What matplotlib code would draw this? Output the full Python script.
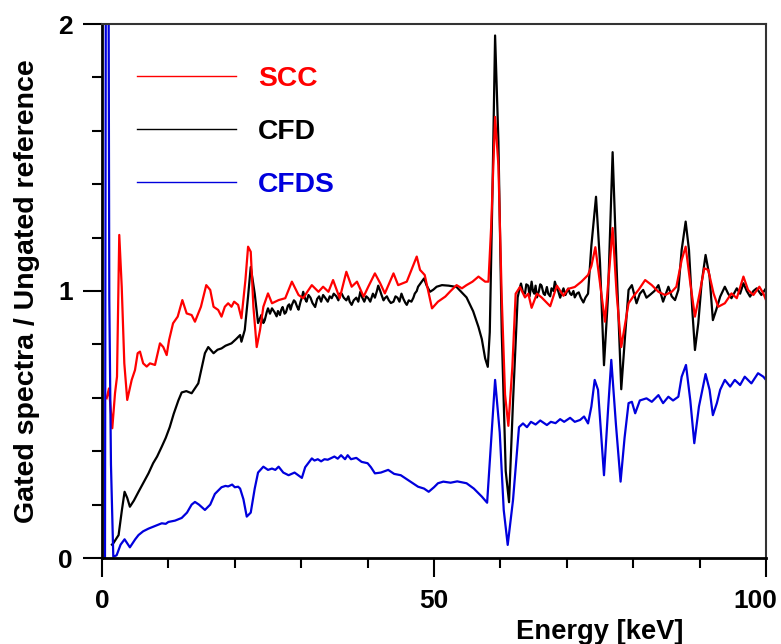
import matplotlib
matplotlib.use('Agg')
import matplotlib.pyplot as plt
from matplotlib.ticker import MultipleLocator
from matplotlib.transforms import ScaledTranslation

# --- data ---
e_scc = [0.7, 1.05, 1.55, 1.96, 2.26, 2.6, 2.97, 3.36, 3.8, 4.47, 4.97, 5.37, 5.72, 6.2, 6.73, 7.23,
         7.98, 8.73, 9.23, 9.74, 10.1, 10.7, 11.4, 12.1, 12.75, 13.5, 14.0, 14.9, 15.7, 16.3, 16.8,
         17.5, 18.0, 18.5, 19.0, 19.5, 19.9, 20.5, 21.0, 21.6, 22.0, 22.4, 22.8, 23.3, 23.8, 24.3,
         25.0, 25.6, 26.6, 27.6, 28.6, 29.6, 30.3, 31.0, 31.6, 32.6, 33.3, 34.1, 34.8, 35.8, 36.8,
         37.6, 38.4, 39.4, 40.1, 41.1, 41.9, 42.6, 43.9, 44.6, 45.9, 46.6, 47.4, 47.9, 48.6, 49.1,
         49.7, 50.6, 51.7, 52.5, 53.4, 54.2, 54.9, 55.8, 56.7, 57.7, 58.2, 58.6, 59.2, 59.7, 60.2,
         60.7, 61.2, 61.8, 62.3, 62.95, 63.7, 64.2, 64.7, 65.5, 66.2, 67.5, 68.5, 69.5, 70.2, 71.2,
         72.2, 73.2, 73.7, 74.3, 75.0, 75.75, 76.4, 76.9, 77.5, 78.2, 78.8, 79.3, 80.0, 80.8, 81.8,
         82.8, 83.8, 84.8, 85.8, 86.5, 87.3, 87.9, 88.6, 89.3, 90.0, 90.7, 91.3, 92.1, 92.8, 93.8,
         94.8, 95.6, 96.6, 97.3, 98.1, 99.0, 99.6, 100.0]
scc = [0.598, 0.635, 0.486, 0.617, 0.679, 1.21, 1.016, 0.729, 0.592, 0.667, 0.704, 0.767, 0.773,
       0.729, 0.717, 0.729, 0.723, 0.804, 0.79, 0.76, 0.816, 0.879, 0.904, 0.966, 0.916, 0.91, 0.885,
       0.941, 1.022, 1.004, 0.941, 0.929, 0.904, 0.941, 0.954, 0.941, 0.96, 0.948, 0.898, 1.041,
       1.166, 1.147, 0.941, 0.79, 0.854, 0.941, 0.991, 0.954, 0.966, 0.973, 1.035, 0.985, 0.973,
       1.0, 1.022, 0.997, 1.016, 0.997, 1.041, 0.973, 1.072, 1.016, 1.035, 0.979, 1.016, 1.066,
       1.029, 0.991, 1.066, 1.022, 1.035, 1.079, 1.129, 1.079, 1.06, 1.004, 0.935, 0.96, 0.979,
       1.0, 1.022, 1.01, 1.022, 1.035, 1.054, 1.035, 1.035, 1.236, 1.652, 1.47, 0.976, 0.612, 0.495,
       0.716, 0.99, 1.015, 0.976, 0.99, 0.937, 0.99, 0.976, 0.943, 1.02, 0.982, 1.008, 1.015, 1.035,
       1.06, 1.093, 1.164, 1.028, 0.885, 1.08, 1.236, 0.991, 0.79, 0.879, 0.954, 0.979, 1.004,
       1.041, 1.022, 0.997, 0.985, 0.997, 1.016, 1.116, 1.166, 1.029, 0.904, 0.991, 1.085, 1.079,
       0.991, 0.941, 0.954, 0.991, 0.973, 1.054, 1.004, 0.985, 1.016, 0.991, 0.966]

e_cfd = [1.5, 1.7, 2.5, 3.0, 3.4, 3.8, 4.2, 4.8, 5.5, 6.2, 7.0, 7.7, 8.3, 9.0, 9.6, 10.2, 10.8,
         11.5, 12.0, 12.7, 13.5, 14.5, 15.0, 15.5, 16.0, 16.8, 17.4, 18.0, 18.6, 19.5, 20.2, 20.8,
         21.0, 21.5, 22.0, 22.4, 23.0, 23.5,
         24.0, 24.3, 24.5, 24.8, 25.0, 25.3, 25.6, 26.0, 26.3, 26.5, 26.8, 27.0, 27.2, 27.5, 27.7,
         28.0, 28.2, 28.4, 28.6, 28.9, 29.1, 29.4, 29.6, 29.9, 30.1, 30.3, 30.6, 30.8, 31.1, 31.4,
         31.7, 32.1, 32.4, 32.7, 33.0, 33.3, 33.6, 34.0, 34.3, 34.6, 34.9, 35.3, 35.6, 35.8, 36.1,
         36.4, 36.8, 37.1, 37.3, 37.6, 37.9, 38.3, 38.6, 38.9, 39.2, 39.5, 39.8, 40.1, 40.4, 40.8,
         41.1, 41.4, 41.6, 41.9, 42.1, 42.4, 42.6, 42.9, 43.2, 43.5, 43.9, 44.2, 44.5, 44.8, 45.1,
         45.4, 45.7, 45.9, 46.2, 46.6, 46.9, 47.1, 47.4, 47.6, 48.0, 48.5, 48.9, 49.4, 49.9, 50.4,
         51.2, 52.2, 53.4, 54.9, 55.9, 56.7, 57.2, 57.7, 58.1, 58.4, 58.8, 59.2, 59.7, 60.2, 60.8,
         61.3, 61.9,
         62.6, 62.9, 63.1, 63.4, 63.7, 63.9, 64.2, 64.4, 64.7, 64.9, 65.1, 65.3, 65.5, 65.8, 66.0,
         66.2, 66.5, 66.7, 67.0, 67.2, 67.5, 67.7, 68.0, 68.2, 68.5, 68.7, 69.0, 69.2, 69.5, 69.8,
         70.2, 70.5, 70.7, 71.0, 71.2, 71.5, 71.8, 72.1, 72.5, 72.8, 73.2,
         73.7, 74.4, 75.0, 75.6, 76.2, 76.9, 77.5, 78.2, 78.8, 79.3, 79.8, 80.5, 81.0, 81.5, 82.0,
         82.5, 83.2, 83.8, 84.5, 85.3, 85.8, 86.3, 86.8, 87.3, 87.9, 88.4, 88.9, 89.3, 89.8, 90.3,
         90.9, 91.5, 92.0, 92.5, 93.1, 93.8, 94.3, 94.8, 95.6, 96.1, 96.6, 97.1, 97.6, 98.1, 98.6,
         99.3, 100.0]
cfd = [0.05, 0.055, 0.086, 0.18, 0.248, 0.225, 0.192, 0.215, 0.248, 0.28, 0.317, 0.355, 0.38,
       0.417, 0.45, 0.49, 0.54, 0.59, 0.62, 0.625, 0.617, 0.654, 0.71, 0.767, 0.79, 0.767, 0.78,
       0.785, 0.795, 0.804, 0.82, 0.835, 0.81, 0.854, 0.98, 1.09, 0.99, 0.88,
       0.91, 0.88, 0.89, 0.92, 0.935, 0.915, 0.935, 0.92, 0.905, 0.925, 0.91, 0.93, 0.94, 0.915,
       0.92, 0.945, 0.95, 0.93, 0.948, 0.965, 0.96, 0.94, 0.93, 0.96, 0.975, 0.997, 0.97, 0.96,
       0.985, 0.975, 0.955, 0.94, 0.97, 0.98, 0.96, 0.985, 0.975, 0.96, 0.98, 0.973, 0.99, 0.98,
       0.965, 0.99, 0.99, 0.975, 0.965, 0.98, 0.96, 0.948, 0.965, 0.975, 0.96, 0.997, 0.975, 0.96,
       0.98, 0.973, 0.96, 0.99, 0.975, 1.0, 1.02, 1.0, 0.985, 0.965, 0.973, 0.98, 0.965, 0.955,
       0.96, 0.98, 0.975, 0.96, 0.99, 0.97, 0.955, 0.948, 0.965, 0.96, 0.975, 0.99, 1.0, 1.016,
       1.03, 1.047, 1.02, 0.997, 1.005, 1.016,
       1.022, 1.02, 1.015, 0.976, 0.924, 0.865, 0.82, 0.748, 0.716, 0.846, 1.366, 1.957, 1.561,
       0.846, 0.326, 0.209, 0.586,
       0.976, 1.01, 1.028, 0.995, 0.99, 1.025, 1.02, 0.98, 1.035, 1.0, 0.99, 1.02, 0.976, 1.0,
       1.025, 1.02, 0.99, 0.985, 1.015, 0.99, 0.98, 1.01, 1.0, 1.035, 1.01, 1.0, 0.975, 0.99,
       1.01, 0.985, 1.009, 0.99, 0.985, 1.0, 0.976, 0.99, 0.995, 0.975, 0.957, 0.975, 0.99,
       1.17, 1.353, 1.106, 0.722, 0.976, 1.52, 1.09, 0.632, 0.84, 1.004, 1.022, 0.954, 0.99,
       1.004, 0.975, 0.985, 1.0, 1.022, 0.96, 1.016, 0.98, 0.966, 1.004, 1.154, 1.26, 1.154,
       0.929, 0.779, 0.879, 1.029, 1.135, 1.054, 0.891, 0.929, 0.979, 1.016, 0.99, 0.973, 1.01,
       0.99, 1.029, 1.0, 0.979, 1.0, 1.01, 0.985, 1.01]

e_cfds = [0.45, 0.6, 0.95, 1.1, 1.35, 1.7, 2.2, 2.8, 3.4, 4.2, 5.0, 5.5, 6.2, 7.0, 8.0, 9.0, 9.6,
          10.0, 11.0, 12.0, 12.8, 13.5, 14.0, 14.6, 15.5, 16.3, 17.0, 18.0, 18.6, 19.0, 19.6, 20.0,
          20.5, 20.8, 21.3, 21.8, 22.4, 23.0, 23.5, 24.3, 25.0, 25.6, 26.1, 26.6, 27.3, 28.1, 29.0,
          30.1, 30.6, 31.6, 32.0, 32.5, 33.0, 33.5, 34.0, 34.6, 35.0, 35.5, 36.0, 36.6, 37.0, 37.5,
          38.3, 39.1, 40.0, 40.5, 41.1, 42.0, 43.1, 44.0, 45.0, 45.6, 46.5, 47.6, 48.5, 49.2, 50.0,
          50.6, 51.4, 52.5, 53.5, 54.9, 56.0, 57.2, 58.0, 58.5, 59.2, 59.9, 60.5, 61.1, 61.9, 62.8,
          63.4, 64.0, 64.6, 65.3, 66.0, 67.0, 67.6, 68.3, 69.0, 69.6, 70.5, 71.2, 72.0, 72.6, 73.2,
          73.7, 74.2, 74.7, 75.6, 76.2, 76.7, 77.4, 78.1, 78.7, 79.3, 79.8, 80.3, 81.0, 82.0, 82.8,
          83.8, 84.5, 85.3, 86.0, 86.8, 87.3, 87.95, 88.6, 89.2, 89.9, 90.9, 91.5, 92.0, 92.6, 93.1,
          93.8, 94.6, 95.3, 96.1, 96.8, 97.8, 98.8, 99.6, 100.0]
cfds = [0.0, 2.6, 2.6, 0.97, 0.35, 0.005, 0.01, 0.05, 0.07, 0.04, 0.07, 0.086, 0.10, 0.11, 0.12,
        0.13, 0.128, 0.135, 0.14, 0.15, 0.17, 0.20, 0.21, 0.20, 0.18, 0.20, 0.24, 0.265, 0.27,
        0.268, 0.275, 0.265, 0.267, 0.26, 0.22, 0.155, 0.17, 0.26, 0.32, 0.342, 0.33, 0.335, 0.33,
        0.342, 0.32, 0.31, 0.32, 0.30, 0.34, 0.373, 0.365, 0.37, 0.362, 0.37, 0.368, 0.375, 0.38,
        0.372, 0.385, 0.37, 0.385, 0.37, 0.375, 0.36, 0.355, 0.34, 0.317, 0.32, 0.33, 0.315, 0.31,
        0.30, 0.285, 0.267, 0.26, 0.248, 0.265, 0.28, 0.286, 0.282, 0.287, 0.28, 0.26, 0.23, 0.207,
        0.40, 0.667, 0.47, 0.18, 0.049, 0.217, 0.49, 0.504, 0.49, 0.51, 0.50, 0.515, 0.498, 0.51,
        0.505, 0.52, 0.51, 0.525, 0.51, 0.517, 0.53, 0.504, 0.567, 0.667, 0.63, 0.31, 0.55, 0.742,
        0.50, 0.286, 0.45, 0.58, 0.585, 0.542, 0.59, 0.598, 0.585, 0.61, 0.58, 0.604, 0.59, 0.604,
        0.679, 0.723, 0.59, 0.43, 0.567, 0.689, 0.63, 0.535, 0.58, 0.63, 0.667, 0.642, 0.667,
        0.648, 0.679, 0.654, 0.692, 0.679, 0.667]

plt.rcParams['font.family'] = ['Liberation Sans', 'DejaVu Sans']
plt.rcParams['font.weight'] = 'bold'

fig = plt.figure(figsize=(7.81, 6.44), dpi=100)
ax = fig.add_axes([102 / 781, 1 - 558 / 644, 664 / 781, 534 / 644])

ax.plot(e_cfd, cfd, color='black', lw=1.6, label='CFD')
ax.plot(e_scc, scc, color='#ff0000', lw=1.6, label='SCC')
ax.plot(e_cfds, cfds, color='#0000dd', lw=1.6, label='CFDS')

ax.set_xlim(0, 100)
ax.set_ylim(0, 2)
ax.set_xticks([0, 50, 100])
ax.xaxis.set_minor_locator(MultipleLocator(10))
ax.set_yticks([0, 1, 2])
ax.yaxis.set_minor_locator(MultipleLocator(0.2))
ax.tick_params(which='major', direction='out', length=14, width=1.5, labelsize=19, pad=7)
ax.tick_params(which='minor', direction='out', length=7.5, width=1.5)
ax.tick_params(axis='x', which='major', pad=8)

# the "100" label sits a bit left of its tick in the original
lab = ax.get_xticklabels()[-1]
lab.set_transform(lab.get_transform() + ScaledTranslation(-0.11, 0, fig.dpi_scale_trans))

for s in ['left', 'bottom']:
    ax.spines[s].set_linewidth(2)
for s in ['top', 'right']:
    ax.spines[s].set_linewidth(1.5)
    ax.spines[s].set_color('#333333')

ax.set_xlabel('Energy [keV]', fontsize=19.7, fontweight='bold')
ax.xaxis.set_label_coords(0.75, -0.114)
ax.set_ylabel('Gated spectra / Ungated reference', fontsize=20.5, fontweight='bold')
ax.yaxis.set_label_coords(-0.094, 0.5)

h = ax.get_legend_handles_labels()[0]
leg = ax.legend([h[1], h[0], h[2]], ['SCC', 'CFD', 'CFDS'], loc='upper left',
                bbox_to_anchor=(0.053, 0.922), frameon=False, fontsize=20.3,
                handlelength=3.5, handletextpad=0.78, labelspacing=0.96,
                borderpad=0, borderaxespad=0, labelcolor='linecolor')
for line in leg.get_lines():
    line.set_linewidth(1.0)

fig.savefig('out.png', dpi=100)
